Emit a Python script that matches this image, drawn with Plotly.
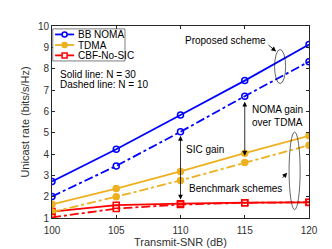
import plotly.graph_objects as go

snr = [100, 105, 110, 115, 120]
noma_30 = [2.71, 4.22, 5.83, 7.44, 9.13]
noma_10 = [2.01, 3.44, 5.04, 6.71, 8.33]
tdma_30 = [1.64, 2.38, 3.18, 4.04, 4.85]
tdma_10 = [1.28, 2.00, 2.76, 3.60, 4.41]
cbf_30 = [1.30, 1.60, 1.67, 1.72, 1.73]
cbf_10 = [1.03, 1.44, 1.63, 1.71, 1.74]
x_ticks = [100, 105, 110, 115, 120]
y_ticks = [1, 2, 3, 4, 5, 6, 7, 8, 9, 10]
legend_names = ["BB NOMA", "TDMA", "CBF-No-SIC"]

BLUE = "#0000FF"
ORANGE = "#EDB120"
RED = "#FF0000"
FONT = "Liberation Sans, Arial, sans-serif"
TXT = "#303030"

fig = go.Figure()

def add(y, name, color, symbol, dash):
    fig.add_trace(go.Scatter(
        x=snr, y=y, name=name, mode="lines+markers", showlegend=False,
        line=dict(color=color, width=1.8, dash=dash),
        marker=dict(symbol=symbol, size=6, color=color,
                    line=dict(color=color, width=1.5)),
    ))

add(noma_30, "BB NOMA", BLUE, "circle-open", "solid")
add(tdma_30, "TDMA", ORANGE, "circle", "solid")
add(cbf_30, "CBF-No-SIC", RED, "square-open", "solid")
add(noma_10, "BB NOMA N=10", BLUE, "circle-open", "dashdot")
add(tdma_10, "TDMA N=10", ORANGE, "circle", "dashdot")
add(cbf_10, "CBF-No-SIC N=10", RED, "square-open", "dashdot")

# custom compact legend (MATLAB style)
fig.add_shape(type="rect", xref="paper", yref="paper", x0=0.003, x1=0.284, y0=0.818, y1=0.985,
              line=dict(color="#262626", width=0.6), fillcolor="white", layer="above")
leg_colors = [BLUE, ORANGE, RED]
leg_y = [0.956, 0.901, 0.847]
for name, col, ly, shape in zip(legend_names, leg_colors, leg_y, ["circle", "circle", "rect"]):
    fig.add_shape(type="line", xref="paper", yref="paper", x0=0.012, x1=0.086, y0=ly, y1=ly,
                  line=dict(color=col, width=1.8), layer="above")
    fill = col if name == "TDMA" else "white"
    fig.add_shape(type=shape, xref="paper", yref="paper", xsizemode="pixel", ysizemode="pixel",
                  xanchor=0.049, yanchor=ly, x0=-2.5, x1=2.5, y0=-2.5, y1=2.5,
                  line=dict(color=col, width=1.5), fillcolor=fill, layer="above")
    fig.add_annotation(x=0.093, y=ly, xref="paper", yref="paper", text=name, showarrow=False,
                       xanchor="left", yanchor="middle",
                       font=dict(family=FONT, size=10, color="black"))

# ellipses
fig.add_shape(type="circle", xref="x", yref="y", x0=117.32, x1=118.18, y0=7.3, y1=8.9,
              line=dict(color="black", width=0.6))
fig.add_shape(type="circle", xref="x", yref="y", x0=118.45, x1=119.31, y0=1.39, y1=5.03,
              line=dict(color="black", width=0.6))

tf = dict(family=FONT, size=10, color="black")

def arrow(x, y, ax, ay, both=False):
    fig.add_annotation(x=x, y=y, ax=ax, ay=ay, xref="x", yref="y", axref="x", ayref="y",
                       text="", showarrow=True, arrowhead=2, arrowsize=1.2, arrowwidth=0.8,
                       arrowcolor="black", arrowside="end+start" if both else "end",
                       startarrowhead=2, startarrowsize=1.2, standoff=0, startstandoff=0)

arrow(117.44, 8.81, 116.74, 9.16)
arrow(118.3, 3.12, 117.83, 2.81)
arrow(115, 6.45, 115, 3.85, both=True)
arrow(110, 4.85, 110, 1.8, both=True)

def text(x, y, s, anchor="left"):
    fig.add_annotation(x=x, y=y, xref="x", yref="y", text=s, showarrow=False,
                       xanchor=anchor, yanchor="middle", align="left", font=tf)

text(113.48, 9.3, "Proposed scheme", "center")
text(115.4, 5.76, "NOMA gain<br>over TDMA")
text(110.25, 4.23, "SIC gain")
text(114.29, 2.36, "Benchmark schemes", "center")
text(100.5, 7.74, "Solid line: N = 30")
text(100.5, 7.25, "Dashed line: N = 10")

axis_common = dict(showgrid=False, zeroline=False, showline=True, linecolor="#262626",
                   linewidth=0.8, mirror="ticks", ticks="inside", ticklen=3,
                   tickcolor="#262626", tickfont=dict(family=FONT, size=10, color=TXT))

fig.update_layout(
    width=332, height=249,
    margin=dict(l=44, r=31, t=18, b=28),
    paper_bgcolor="white", plot_bgcolor="white",
    font=dict(family=FONT, size=10, color=TXT),
    showlegend=False,
    xaxis=dict(range=[100, 120], tickvals=x_ticks, ticklabelstandoff=3,
               title=dict(text="Transmit-SNR (dB)", font=dict(family=FONT, size=11, color=TXT), standoff=1),
               **axis_common),
    yaxis=dict(range=[1, 10], tickvals=y_ticks,
               title=dict(text="Unicast rate (bits/s/Hz)", font=dict(family=FONT, size=11, color=TXT), standoff=6),
               **axis_common),
)

fig.write_html("out.html")
